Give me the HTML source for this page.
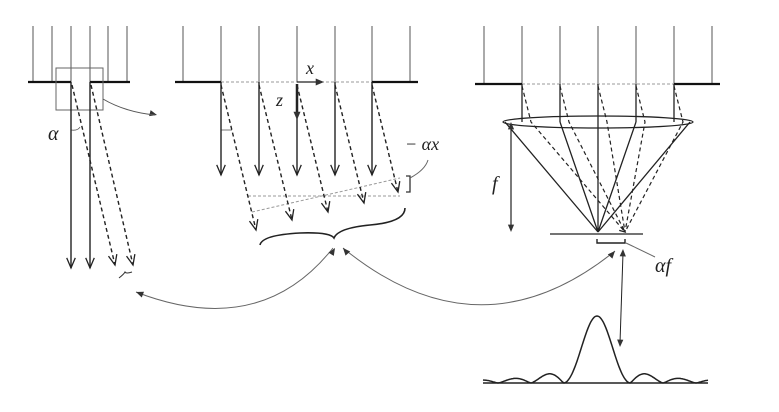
<!DOCTYPE html>
<html><head><style>body{margin:0;background:#fff}svg{display:block}text{font-family:"Liberation Serif",serif;font-style:italic;fill:#222}</style></head><body>
<svg id="s" width="779" height="412" viewBox="0 0 779 412" xmlns="http://www.w3.org/2000/svg">
<g stroke="#555" stroke-width="1">
<path d="M33 26V82M52 26V82M71 26V82M90 26V82M108 26V82M127 26V82"/>
<path d="M183 26V82M221 26V82M259 26V82M297 26V82M335 26V82M372 26V82M410 26V82"/>
<path d="M484 26V84M522 26V84M560 26V84M598 26V84M636 26V84M674 26V84M712 26V84"/>
</g>
<g stroke="#111" stroke-width="2.2" fill="none">
<path d="M28 82H71M90 82H130"/><path d="M175 82H221M372 82H418"/><path d="M475 84H522M674 84H720"/>
</g>
<g stroke="#999" stroke-width="1" stroke-dasharray="3,2" fill="none">
<path d="M221 82H372M522 84H674M248 196H400M252 212L400 178"/>
</g>
<rect x="56" y="68" width="47" height="42" fill="none" stroke="#666"/>
<path d="M221 130H232" stroke="#555" stroke-width="0.8"/><path d="M71 130Q78 131 80 127" stroke="#555" fill="none" stroke-width="0.8"/>
<text x="306" y="74" font-size="18">x</text><text x="276" y="106" font-size="18">z</text>
<text x="48" y="140" font-size="20">α</text>
<path d="M119 278Q124 274 125 272Q126 274 132 272" stroke="#333" fill="none"/>
<path d="M406 176H410V192H406" stroke="#333" fill="none" stroke-width="1.3"/>
<path d="M410 178Q425 170 428 160" stroke="#666" fill="none"/>
<text x="405" y="150" font-size="18">− αx</text>
<path d="M260 245Q262 235 300 233Q330 232 334 238Q338 228 370 225Q405 222 405 208" stroke="#222" fill="none" stroke-width="1.6"/>
<ellipse cx="598" cy="122" rx="95" ry="6" fill="none" stroke="#222" stroke-width="1.3"/>
<g stroke="#222" stroke-width="1.3" fill="none">
<path d="M522 84V122M560 84V122M598 84V232M636 84V122M674 84V122"/>
<path d="M505 122L598 232M560 122L598 232M636 122L598 232M690 122L598 232"/>
<path d="M550 234H643"/>
</g>
<g stroke="#222" stroke-width="1.2" fill="none" stroke-dasharray="4,3">
<path d="M522 86L531 122L625 232M560 86L569 122L625 232M598 86L607 122L625 232M636 86L645 122L625 232M674 86L683 122L625 232"/>
</g>
<path d="M597 239V243H625V239" stroke="#222" fill="none" stroke-width="1.4"/>
<path d="M626 243Q645 252 655 257" stroke="#666" fill="none"/>
<text x="655" y="272" font-size="20">αf</text>
<text x="492" y="190" font-size="20">f</text>
<path d="M483 383H708" stroke="#222" stroke-width="1.5"/>
<path id="sinc" stroke="#222" fill="none" stroke-width="1.5"/>
<path d="M333 248Q260 340 136 292" stroke="#666" fill="none"/>
<path d="M343 248Q480 360 615 251" stroke="#666" fill="none"/>
<g id="arr"></g>
</svg>
<script>
var NS="http://www.w3.org/2000/svg",g=document.getElementById("arr");
function el(t,a){var e=document.createElementNS(NS,t);for(var k in a)e.setAttribute(k,a[k]);g.appendChild(e);return e;}
function head(x1,y1,x2,y2,open,sz,col,w){var a=Math.atan2(y2-y1,x2-x1),s=sz||8,h=0.4;
var p1=[x2-s*Math.cos(a-h),y2-s*Math.sin(a-h)],p2=[x2-s*Math.cos(a+h),y2-s*Math.sin(a+h)];
if(open)el("path",{d:"M"+p1+" L"+x2+","+y2+" L"+p2,fill:"none",stroke:col||"#222","stroke-width":w||1.3});
else el("path",{d:"M"+p1+" L"+x2+","+y2+" L"+p2+"Z",fill:col||"#333"});}
function arrow(x1,y1,x2,y2,dash,w){var a={x1:x1,y1:y1,x2:x2,y2:y2,stroke:"#222","stroke-width":w||1.4};if(dash)a["stroke-dasharray"]="4,3";el("line",a);head(x1,y1,x2,y2,true,11);}
arrow(71,82,71,268);arrow(90,82,90,268);arrow(72,85,115,265,1);arrow(91,85,133,265,1);
[221,259,335,372].forEach(function(x){arrow(x,82,x,175)});arrow(297,118,297,175);
[[221,256,230],[259,292,220],[297,328,212],[335,364,203],[372,398,192]].forEach(function(v){arrow(v[0],85,v[1],v[2],1)});
el("line",{x1:297,y1:82,x2:322,y2:82,stroke:"#222","stroke-width":1.3});head(297,82,324,82,false,9);
el("line",{x1:297,y1:84,x2:297,y2:116,stroke:"#222","stroke-width":2.5});head(297,84,297,120,false,9);
head(130,108,157,115,false,8);el("path",{d:"M103 99Q125 112 155 115",stroke:"#555",fill:"none"});
el("line",{x1:511,y1:126,x2:511,y2:228,stroke:"#222","stroke-width":1.2});head(511,230,511,122,false,8);head(511,122,511,232,false,8);
el("line",{x1:623,y1:253,x2:620,y2:343,stroke:"#222"});head(620,343,623,249,false,8);head(623,253,620,347,false,8);
head(300,305,335,248,false,8);head(170,305,136,292,false,8);head(380,290,343,248,false,8);head(580,290,615,251,false,8);
head(620,228,625,232,true,6);
var d="";for(var x=483;x<=708;x++){var u=(x-597)*Math.PI/33;var s=Math.abs(u)<1e-6?1:Math.sin(u)/u;var y=383-67*Math.pow(Math.abs(s),Math.abs(u)<Math.PI?1.6:1.3);d+=(d?"L":"M")+x+" "+y.toFixed(1);}
document.getElementById("sinc").setAttribute("d",d);
</script>
</body></html>
